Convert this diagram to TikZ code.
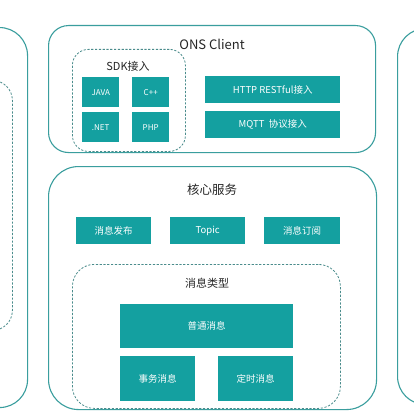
\documentclass[tikz,border=0pt]{standalone}
\usepackage{fontspec}
\setmainfont{Noto Sans CJK SC}
\usetikzlibrary{positioning}

\definecolor{tealfill}{HTML}{14A0A0}
\definecolor{tealline}{HTML}{3A9E9E}
\definecolor{dashline}{HTML}{4A8C8C}

\tikzset{
	panel/.style={draw=tealline, line width=1.1pt, rounded corners=20pt, anchor=north west, inner sep=0pt},
	group/.style={draw=dashline, line width=0.8pt, dash pattern=on 2.2pt off 1.6pt, rounded corners=16pt, anchor=north west, inner sep=0pt},
	tile/.style={fill=tealfill, text=white, anchor=north west, inner sep=0pt, font=\fontsize{9.5}{10}\selectfont},
	smalltile/.style={tile, minimum width=37pt, minimum height=30pt, font=\fontsize{8}{9}\selectfont},
	heading/.style={text=black!85, inner sep=0pt},
}

\begin{document}
\begin{tikzpicture}[x=1pt, y=-1pt]
				\useasboundingbox (0,0) rectangle (414,414);
				\fill[white] (0,0) rectangle (414,414);
				\clip (0,0) rectangle (414,414);
				
				% side panels, cut by the picture edge
				\node[panel, rounded corners=28pt, minimum width=80pt, minimum height=380pt] (leftpanel) at (-53,27) {};
				\node[group, rounded corners=20pt, minimum width=65pt, minimum height=250pt] (leftgroup) at (-53,80) {};
				\node[panel, rounded corners=28pt, minimum width=80pt, minimum height=376pt] (rightpanel) at (397,28) {};
				
				% ONS Client
				\node[panel, minimum width=327pt, minimum height=127pt] (client) at (48,25) {};
				\node[heading, font=\fontsize{13}{15}\selectfont] (clienttitle) at (212,44) {ONS Client};
				
				\node[group, minimum width=113pt, minimum height=102pt] (sdk) at (72,49) {};
				\node[heading, font=\fontsize{11}{13}\selectfont] (sdktitle) at (128,66) {SDK接入};
				\node[smalltile] (java) at (82,77) {JAVA};
				\node[smalltile] (cpp) at (132,77) {C++};
				\node[smalltile] (net) at (82,112) {.NET};
				\node[smalltile] (php) at (132,112) {PHP};
				
				\node[tile, minimum width=135pt, minimum height=27pt] (http) at (205,76) {HTTP RESTful接入};
				\node[tile, minimum width=135pt, minimum height=27pt] (mqtt) at (205,111) {MQTT\ \ 协议接入};
				
				% core service
				\node[panel, rounded corners=30pt, minimum width=328pt, minimum height=243pt] (core) at (48,166) {};
				\node[heading, font=\fontsize{12.5}{14}\selectfont] (coretitle) at (212,190) {核心服务};
				
				\node[tile, minimum width=75pt, minimum height=27pt] (publish) at (76,217) {消息发布};
				\node[tile, minimum width=75pt, minimum height=27pt] (topic) at (170,217) {Topic};
				\node[tile, minimum width=76pt, minimum height=27pt] (subscribe) at (264,217) {消息订阅};
				
				\node[group, rounded corners=22pt, minimum width=268pt, minimum height=144pt] (types) at (72,264) {};
				\node[heading, font=\fontsize{11}{13}\selectfont] (typestitle) at (207,283) {消息类型};
				\node[tile, minimum width=173pt, minimum height=44pt] (normal) at (120,304) {普通消息};
				\node[tile, minimum width=75pt, minimum height=45pt] (trans) at (120,356) {事务消息};
				\node[tile, minimum width=75pt, minimum height=45pt] (timed) at (218,356) {定时消息};
			\end{tikzpicture}
\end{document}
